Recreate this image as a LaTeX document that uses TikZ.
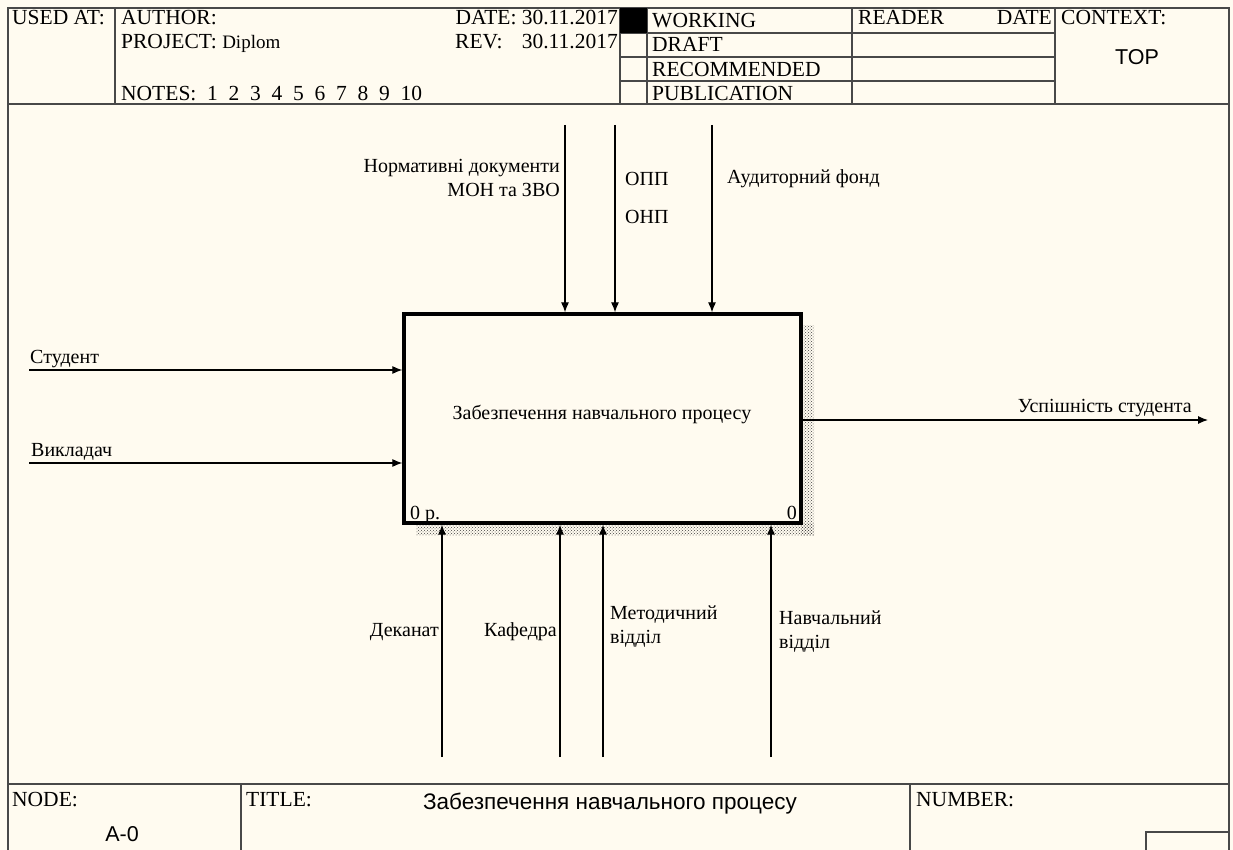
\documentclass[tikz,border=0pt]{standalone}
\usepackage{fontspec}
\setmainfont{Liberation Serif}
\newfontfamily\sansf{Liberation Sans}
\usetikzlibrary{arrows.meta,patterns}
\definecolor{paper}{HTML}{FFFBF0}
\definecolor{ink}{HTML}{1A1A1A}
\begin{document}
\begin{tikzpicture}[x=1pt,y=-1pt,
  frame/.style={draw=ink!80,line width=1.4pt},
  thin/.style={draw=ink!80,line width=1.1pt},
  hdr/.style={inner sep=0pt,font=\fontsize{21.5}{23}\selectfont},
  lbl/.style={inner sep=0pt,font=\fontsize{20}{24}\selectfont,align=left},
  arr/.style={draw=black,line width=1.1pt,-{Latex[length=10pt,width=8pt]}},
  fnbox/.style={draw=black,line width=3.3pt,fill=paper,minimum width=397pt,minimum height=209pt,inner sep=0pt}]
\fill[paper] (0,0) rectangle (1233,850);
\useasboundingbox (0,0) rectangle (1233,850);
% outer frame
\draw[frame] (8,850) -- (8,8) -- (1229,8) -- (1229,850);
% header
\draw[frame] (8,104) -- (1229,104);
\draw[thin] (115,8) -- (115,104);
\draw[thin] (620,8) -- (620,104);
\draw[thin] (647,8) -- (647,104);
\draw[thin] (852,8) -- (852,104);
\draw[thin] (1055,8) -- (1055,104);
\draw[thin] (620,33) -- (1055,33);
\draw[thin] (620,57) -- (1055,57);
\draw[thin] (620,81) -- (1055,81);
\fill[black] (620,8) rectangle (647,33);
\node[hdr,anchor=base west] (usedat) at (12,25) {USED AT:};
\node[hdr,anchor=base west] (author) at (121,25) {AUTHOR:};
\node[hdr,anchor=base west] (project) at (121,49) {PROJECT:\ \fontsize{19}{21}\selectfont Diplom};
\node[hdr,anchor=base west] (notes) at (121,101) {NOTES:\ \ 1\ \ 2\ \ 3\ \ 4\ \ 5\ \ 6\ \ 7\ \ 8\ \ 9\ \ 10};
\node[hdr,anchor=base east] (date) at (618,25) {DATE: 30.11.2017};
\node[hdr,anchor=base west] (rev) at (455,49) {REV:};
\node[hdr,anchor=base east] (revd) at (618,49) {30.11.2017};
\node[hdr,anchor=base west] (working) at (652,28) {WORKING};
\node[hdr,anchor=base west] (draft) at (652,52) {DRAFT};
\node[hdr,anchor=base west] (recom) at (652,77) {RECOMMENDED};
\node[hdr,anchor=base west] (public) at (652,101) {PUBLICATION};
\node[hdr,anchor=base west] (reader) at (858,25) {READER};
\node[hdr,anchor=base east] (rdate) at (1052,25) {DATE};
\node[hdr,anchor=base west] (context) at (1061,25) {CONTEXT:};
\node[inner sep=0pt,font=\sansf\fontsize{21.5}{23}\selectfont] (top) at (1137,57) {TOP};
% footer
\draw[frame] (8,784) -- (1229,784);
\draw[thin] (241,784) -- (241,850);
\draw[thin] (910,784) -- (910,850);
\draw[thin] (1146,850) -- (1146,832) -- (1229,832);
\node[hdr,anchor=base west] (nodelbl) at (12,806) {NODE:};
\node[inner sep=0pt,font=\sansf\fontsize{21.5}{23}\selectfont] (nodeval) at (122,834) {A-0};
\node[hdr,anchor=base west] (titlelbl) at (246,806) {TITLE:};
\node[inner sep=0pt,anchor=base,font=\sansf\fontsize{22.5}{24}\selectfont] (titleval) at (610,809) {Забезпечення навчального процесу};
\node[hdr,anchor=base west] (numlbl) at (916,806) {NUMBER:};
% shadow
\fill[pattern=crosshatch dots,pattern color=black!75] (801,325) rectangle (814,535);
\fill[pattern=crosshatch dots,pattern color=black!75] (416,523) rectangle (814,535);
% main box
\node[fnbox] (box) at (602.5,418.5) {};
\node[lbl,anchor=center] (boxtxt) at (602,414) {Забезпечення навчального процесу};
\node[lbl,anchor=base west] (boxnum) at (410,519) {0 р.};
\node[lbl,anchor=base east] (boxid) at (797,519) {0};
% controls
\coordinate (c1) at (565,125);
\coordinate (c2) at (615,125);
\coordinate (c3) at (712,125);
\draw[arr] (c1) -- (c1 |- box.north);
\draw[arr] (c2) -- (c2 |- box.north);
\draw[arr] (c3) -- (c3 |- box.north);
\node[lbl,anchor=north east,align=right] (lc1) at (560,159) {Нормативні документи\\МОН та ЗВО};
\node[lbl,anchor=base west] (lc2a) at (625,186) {ОПП};
\node[lbl,anchor=base west] (lc2b) at (625,224) {ОНП};
\node[lbl,anchor=base west] (lc3) at (727,184) {Аудиторний фонд};
% inputs
\coordinate (i1) at (29,370);
\coordinate (i2) at (29,463);
\draw[arr] (i1) -- (i1 -| box.west);
\draw[arr] (i2) -- (i2 -| box.west);
\node[lbl,anchor=base west] (li1) at (30,363) {Студент};
\node[lbl,anchor=base west] (li2) at (31,456) {Викладач};
% output
\coordinate (o1) at (1208,420);
\draw[arr] (o1 -| box.east) -- (o1);
\node[lbl,anchor=base east] (lo1) at (1192,412) {Успішність студента};
% mechanisms
\coordinate (m1) at (442,757);
\coordinate (m2) at (560,757);
\coordinate (m3) at (603,757);
\coordinate (m4) at (771,757);
\draw[arr] (m1) -- (m1 |- box.south);
\draw[arr] (m2) -- (m2 |- box.south);
\draw[arr] (m3) -- (m3 |- box.south);
\draw[arr] (m4) -- (m4 |- box.south);
\node[lbl,anchor=base east] (lm1) at (439,636) {Деканат};
\node[lbl,anchor=base east] (lm2) at (557,636) {Кафедра};
\node[lbl,anchor=north west] (lm3) at (610,606) {Методичний\\відділ};
\node[lbl,anchor=north west] (lm4) at (779,611) {Навчальний\\відділ};
\end{tikzpicture}
\end{document}
